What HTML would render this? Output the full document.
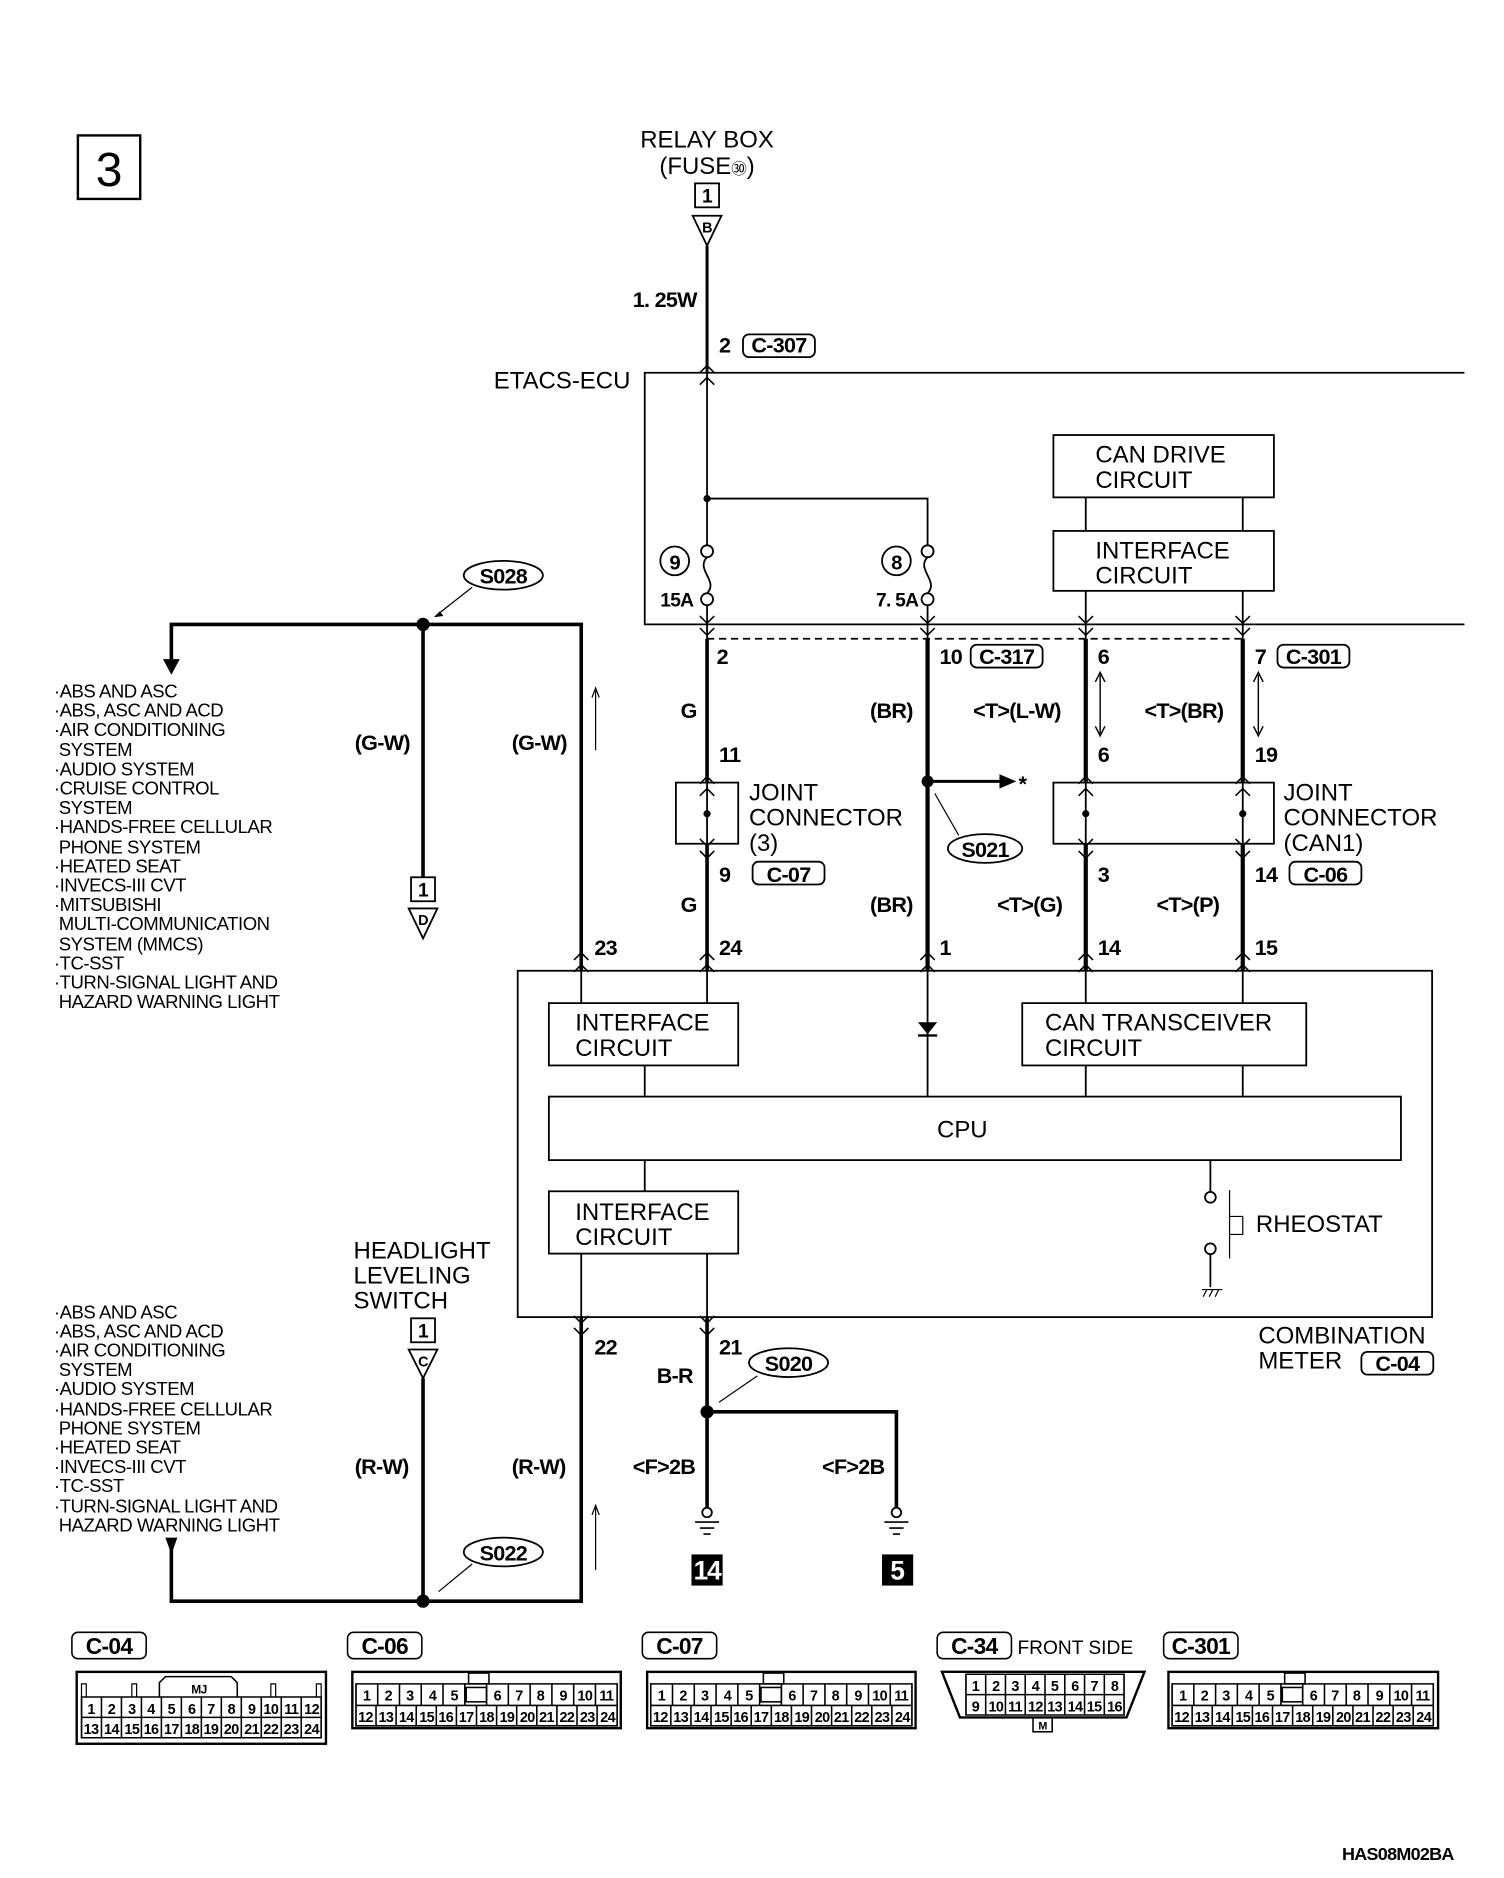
<!DOCTYPE html>
<html><head><meta charset="utf-8"><style>
html,body{margin:0;padding:0;background:#fff}
svg{display:block}
.t{font-family:"Liberation Sans",sans-serif;font-size:20px;fill:#000}
.l{font-family:"Liberation Sans",sans-serif;font-size:15.5px;fill:#000;letter-spacing:-0.4px}
.b{font-family:"Liberation Sans Narrow","Liberation Sans",sans-serif;font-weight:bold;font-size:18px;fill:#000;letter-spacing:-0.6px}
.c{font-family:"Liberation Sans Narrow","Liberation Sans",sans-serif;font-weight:bold;font-size:12px;fill:#000;text-anchor:middle;letter-spacing:-0.5px}
</style></head><body>
<svg width="1504" height="1878" viewBox="0 0 1255 1567" preserveAspectRatio="none" xmlns="http://www.w3.org/2000/svg">
<defs>
<path id="up" d="M-6,6 L0,0 L6,6 M-6,16 L0,10 L6,16" fill="none" stroke="#000" stroke-width="1.3"/>
<path id="dn" d="M-6,-6 L0,0 L6,-6 M-6,4 L0,10 L6,4" fill="none" stroke="#000" stroke-width="1.3"/>
<path id="gnd" d="M-10,0 H10 M-6,5 H6 M-3,10 H3" fill="none" stroke="#000" stroke-width="1.3"/>
</defs>
<g fill="none" stroke="#000" stroke-width="1.5">
<rect x="65" y="113" width="52" height="53" stroke-width="2"/>
<rect x="580" y="153" width="20" height="20"/>
<path d="M578,180 H602 L590,205 Z"/>
<line x1="590" y1="205" x2="590" y2="311" stroke-width="2.5"/>
<rect x="620" y="279" width="60" height="19" rx="5"/>
<path d="M1222,311 H538 V521 H1222"/>
<line x1="590" y1="311" x2="590" y2="455"/>
<path d="M590,416 H774 V455"/>
<circle cx="590" cy="460" r="5"/><circle cx="590" cy="500" r="5"/>
<path d="M590,465 C580,475 600,485 590,495"/>
<circle cx="774" cy="460" r="5"/><circle cx="774" cy="500" r="5"/>
<path d="M774,465 C764,475 784,485 774,495"/>
<circle cx="563" cy="468" r="12"/><circle cx="748" cy="468" r="12"/>
<rect x="879" y="363" width="184" height="52"/>
<rect x="879" y="443" width="184" height="50"/>
<line x1="906" y1="415" x2="906" y2="443"/><line x1="1037" y1="415" x2="1037" y2="443"/>
<line x1="906" y1="493" x2="906" y2="533"/><line x1="1037" y1="493" x2="1037" y2="533"/>
<line x1="590" y1="505" x2="590" y2="533"/><line x1="774" y1="505" x2="774" y2="533"/>
<line x1="590" y1="533" x2="1037" y2="533" stroke-dasharray="6,4"/>
<rect x="810" y="538" width="60" height="19" rx="5"/>
<rect x="1066" y="538" width="60" height="19" rx="5"/>
<line x1="590" y1="533" x2="590" y2="810" stroke-width="3"/>
<line x1="774" y1="533" x2="774" y2="810" stroke-width="3.5"/>
<line x1="906" y1="533" x2="906" y2="810" stroke-width="3.5"/>
<line x1="1037" y1="533" x2="1037" y2="810" stroke-width="3.5"/>
<path d="M918,563 V612 M914,569 L918,561 L922,569 M914,606 L918,614 L922,606" stroke-width="1.2"/>
<path d="M1050,563 V612 M1046,569 L1050,561 L1054,569 M1046,606 L1050,614 L1054,606" stroke-width="1.2"/>
<rect x="564" y="653" width="52" height="51" fill="#fff"/>
<rect x="879" y="653" width="184" height="51" fill="#fff"/>
<line x1="590" y1="653" x2="590" y2="704"/>
<line x1="906" y1="653" x2="906" y2="704"/><line x1="1037" y1="653" x2="1037" y2="704"/>
<line x1="774" y1="652" x2="835" y2="652" stroke-width="2.5"/>
<ellipse cx="822" cy="708" rx="31" ry="12"/>
<line x1="800" y1="697" x2="780" y2="662" stroke-width="1"/>
<rect x="628" y="719" width="60" height="19" rx="5"/>
<rect x="1076" y="719" width="60" height="19" rx="5"/>
<path d="M143,550 V521 H485 V810" stroke-width="3"/>
<path d="M485,1099 V1336 H143 V1292" stroke-width="3"/>
<line x1="353" y1="521" x2="353" y2="732" stroke-width="3"/>
<ellipse cx="420" cy="480" rx="33" ry="12"/>
<line x1="394" y1="490" x2="366" y2="512" stroke-width="1"/>
<rect x="343" y="732" width="20" height="20"/>
<path d="M341,758 H365 L353,783 Z"/>
<line x1="497" y1="576" x2="497" y2="626" stroke-width="1"/>
<path d="M494,582 L497,574 L500,582" stroke-width="1"/>
<line x1="497" y1="1258" x2="497" y2="1310" stroke-width="1"/>
<path d="M494,1264 L497,1256 L500,1264" stroke-width="1"/>
<rect x="432" y="810" width="763" height="289"/>
<rect x="458" y="837" width="158" height="52"/>
<rect x="853" y="837" width="237" height="52"/>
<rect x="458" y="915" width="711" height="53"/>
<rect x="458" y="994" width="158" height="52"/>
<line x1="538" y1="889" x2="538" y2="915"/>
<line x1="774" y1="810" x2="774" y2="915"/>
<line x1="906" y1="810" x2="906" y2="837"/><line x1="1037" y1="810" x2="1037" y2="837"/>
<line x1="906" y1="889" x2="906" y2="915"/><line x1="1037" y1="889" x2="1037" y2="915"/>
<line x1="590" y1="810" x2="590" y2="837"/><line x1="485" y1="810" x2="485" y2="837"/>
<line x1="538" y1="968" x2="538" y2="994"/>
<line x1="1010" y1="968" x2="1010" y2="995"/>
<circle cx="1010" cy="999" r="4.5"/><circle cx="1010" cy="1042" r="4.5"/>
<line x1="1010" y1="1046" x2="1010" y2="1074"/>
<path d="M1003,1076 H1020 M1004,1082 L1007,1076 M1009,1082 L1012,1076 M1014,1082 L1017,1076" stroke-width="1"/>
<path d="M1026,993 V1050 M1026,1015 H1037 V1030 H1026" stroke-width="1"/>
<rect x="1136" y="1128" width="60" height="19" rx="5"/>
<line x1="485" y1="1046" x2="485" y2="1099"/>
<line x1="590" y1="1046" x2="590" y2="1099"/>
<line x1="590" y1="1099" x2="590" y2="1258" stroke-width="3"/>
<path d="M590,1178 H748 V1258" stroke-width="3"/>
<circle cx="590" cy="1262" r="4"/><circle cx="748" cy="1262" r="4"/>
<ellipse cx="658" cy="1137" rx="33" ry="12"/>
<line x1="632" y1="1148" x2="600" y2="1170" stroke-width="1"/>
<rect x="343" y="1100" width="20" height="20"/>
<path d="M341,1126 H365 L353,1150 Z"/>
<line x1="353" y1="1150" x2="353" y2="1336" stroke-width="3"/>
<ellipse cx="420" cy="1295" rx="33" ry="12"/>
<line x1="394" y1="1305" x2="366" y2="1328" stroke-width="1"/>
</g>
<g fill="#000">
<circle cx="590" cy="416" r="3"/>
<circle cx="590" cy="679" r="3"/><circle cx="906" cy="679" r="3"/><circle cx="1037" cy="679" r="3"/>
<circle cx="774" cy="652" r="5"/>
<path d="M834,646 L848,652 L834,658 Z"/>
<circle cx="353" cy="521" r="5.5"/><circle cx="353" cy="1336" r="5.5"/>
<circle cx="590" cy="1178" r="5.5"/>
<path d="M136,550 H150 L143,563 Z"/>
<path d="M138,1283 H148 L143,1297 Z"/>
<path d="M766,853 H782 L774,863 Z"/><rect x="766" y="863" width="16" height="2"/>
<rect x="577" y="1297" width="26" height="26"/><rect x="736" y="1297" width="26" height="26"/>
<path d="M367,510 L362,515 L370,514 Z"/>
</g>
<g>
<use href="#up" x="590" y="305"/>
<use href="#dn" x="590" y="520"/><use href="#dn" x="774" y="520"/><use href="#dn" x="906" y="520"/><use href="#dn" x="1037" y="520"/>
<use href="#up" x="590" y="648"/><use href="#up" x="906" y="648"/><use href="#up" x="1037" y="648"/>
<use href="#dn" x="590" y="706"/><use href="#dn" x="906" y="706"/><use href="#dn" x="1037" y="706"/>
<use href="#up" x="485" y="795"/><use href="#up" x="590" y="795"/><use href="#up" x="774" y="795"/><use href="#up" x="906" y="795"/><use href="#up" x="1037" y="795"/>
<use href="#dn" x="485" y="1104"/><use href="#dn" x="590" y="1104"/>
<use href="#gnd" x="590" y="1270"/><use href="#gnd" x="748" y="1270"/>
</g>
<text class="t" x="91" y="155" text-anchor="middle" style="font-size:40px">3</text>
<text class="t" x="590" y="123" text-anchor="middle">RELAY BOX</text>
<text class="t" x="590" y="145" text-anchor="middle">(FUSE<tspan style="font-size:13px">㉚</tspan>)</text>
<text class="c" x="590" y="169" style="font-size:16px">1</text>
<text class="c" x="590" y="194" style="font-size:12px">B</text>
<text class="b" x="528" y="256">1. 25W</text>
<text class="b" x="600" y="294">2</text><text class="b" x="650" y="294" text-anchor="middle">C-307</text>
<text class="t" x="412" y="324">ETACS-ECU</text>
<text class="b" x="563" y="475" text-anchor="middle" style="font-size:17px">9</text>
<text class="b" x="748" y="475" text-anchor="middle" style="font-size:17px">8</text>
<text class="b" x="551" y="506" style="font-size:16px">15A</text>
<text class="b" x="731" y="506" style="font-size:16px">7. 5A</text>
<text class="t" x="914" y="386">CAN DRIVE</text><text class="t" x="914" y="407">CIRCUIT</text>
<text class="t" x="914" y="466">INTERFACE</text><text class="t" x="914" y="487">CIRCUIT</text>
<text class="b" x="598" y="554">2</text>
<text class="b" x="784" y="554">10</text><text class="b" x="840" y="554" text-anchor="middle">C-317</text>
<text class="b" x="916" y="554">6</text>
<text class="b" x="1047" y="554">7</text><text class="b" x="1096" y="554" text-anchor="middle">C-301</text>
<text class="b" x="568" y="599">G</text><text class="b" x="726" y="599">(BR)</text>
<text class="b" x="812" y="599">&lt;T&gt;(L-W)</text><text class="b" x="955" y="599">&lt;T&gt;(BR)</text>
<text class="b" x="600" y="636">11</text><text class="b" x="916" y="636">6</text><text class="b" x="1047" y="636">19</text>
<text class="t" x="625" y="668">JOINT</text><text class="t" x="625" y="689">CONNECTOR</text><text class="t" x="625" y="710">(3)</text>
<text class="t" x="1071" y="668">JOINT</text><text class="t" x="1071" y="689">CONNECTOR</text><text class="t" x="1071" y="710">(CAN1)</text>
<text class="b" x="850" y="660">*</text>
<text class="b" x="822" y="715" text-anchor="middle">S021</text>
<text class="b" x="600" y="736">9</text><text class="b" x="658" y="736" text-anchor="middle">C-07</text>
<text class="b" x="916" y="736">3</text>
<text class="b" x="1047" y="736">14</text><text class="b" x="1106" y="736" text-anchor="middle">C-06</text>
<text class="b" x="568" y="761">G</text><text class="b" x="726" y="761">(BR)</text>
<text class="b" x="832" y="761">&lt;T&gt;(G)</text><text class="b" x="965" y="761">&lt;T&gt;(P)</text>
<text class="b" x="496" y="797">23</text><text class="b" x="600" y="797">24</text><text class="b" x="784" y="797">1</text><text class="b" x="916" y="797">14</text><text class="b" x="1047" y="797">15</text>
<text class="t" x="480" y="860">INTERFACE</text><text class="t" x="480" y="881">CIRCUIT</text>
<text class="t" x="872" y="860">CAN TRANSCEIVER</text><text class="t" x="872" y="881">CIRCUIT</text>
<text class="t" x="803" y="949" text-anchor="middle">CPU</text>
<text class="t" x="480" y="1018">INTERFACE</text><text class="t" x="480" y="1039">CIRCUIT</text>
<text class="t" x="1048" y="1028">RHEOSTAT</text>
<text class="t" x="1050" y="1121">COMBINATION</text><text class="t" x="1050" y="1142">METER</text>
<text class="b" x="1166" y="1144" text-anchor="middle">C-04</text>
<text class="b" x="420" y="487" text-anchor="middle">S028</text>
<text class="c" x="353" y="748" style="font-size:16px">1</text><text class="c" x="353" y="772" style="font-size:12px">D</text>
<text class="b" x="296" y="626">(G-W)</text><text class="b" x="427" y="626">(G-W)</text>
<text class="l" x="45" y="582">·ABS AND ASC</text>
<text class="l" x="45" y="598">·ABS, ASC AND ACD</text>
<text class="l" x="45" y="614">·AIR CONDITIONING</text>
<text class="l" x="49" y="631">SYSTEM</text>
<text class="l" x="45" y="647">·AUDIO SYSTEM</text>
<text class="l" x="45" y="663">·CRUISE CONTROL</text>
<text class="l" x="49" y="679">SYSTEM</text>
<text class="l" x="45" y="695">·HANDS-FREE CELLULAR</text>
<text class="l" x="49" y="712">PHONE SYSTEM</text>
<text class="l" x="45" y="728">·HEATED SEAT</text>
<text class="l" x="45" y="744">·INVECS-III CVT</text>
<text class="l" x="45" y="760">·MITSUBISHI</text>
<text class="l" x="49" y="776">MULTI-COMMUNICATION</text>
<text class="l" x="49" y="793">SYSTEM (MMCS)</text>
<text class="l" x="45" y="809">·TC-SST</text>
<text class="l" x="45" y="825">·TURN-SIGNAL LIGHT AND</text>
<text class="l" x="49" y="841">HAZARD WARNING LIGHT</text>
<text class="t" x="295" y="1050">HEADLIGHT</text><text class="t" x="295" y="1071">LEVELING</text><text class="t" x="295" y="1092">SWITCH</text>
<text class="c" x="353" y="1116" style="font-size:16px">1</text><text class="c" x="353" y="1140" style="font-size:12px">C</text>
<text class="l" x="45" y="1100">·ABS AND ASC</text>
<text class="l" x="45" y="1116">·ABS, ASC AND ACD</text>
<text class="l" x="45" y="1132">·AIR CONDITIONING</text>
<text class="l" x="49" y="1148">SYSTEM</text>
<text class="l" x="45" y="1164">·AUDIO SYSTEM</text>
<text class="l" x="45" y="1181">·HANDS-FREE CELLULAR</text>
<text class="l" x="49" y="1197">PHONE SYSTEM</text>
<text class="l" x="45" y="1213">·HEATED SEAT</text>
<text class="l" x="45" y="1229">·INVECS-III CVT</text>
<text class="l" x="45" y="1245">·TC-SST</text>
<text class="l" x="45" y="1262">·TURN-SIGNAL LIGHT AND</text>
<text class="l" x="49" y="1278">HAZARD WARNING LIGHT</text>
<text class="b" x="296" y="1230">(R-W)</text><text class="b" x="427" y="1230">(R-W)</text>
<text class="b" x="496" y="1130">22</text><text class="b" x="600" y="1130">21</text>
<text class="b" x="548" y="1154">B-R</text>
<text class="b" x="658" y="1144" text-anchor="middle">S020</text>
<text class="b" x="528" y="1230">&lt;F&gt;2B</text><text class="b" x="686" y="1230">&lt;F&gt;2B</text>
<text class="b" x="420" y="1302" text-anchor="middle">S022</text>
<text x="590" y="1318" text-anchor="middle" style="font-family:'Liberation Sans',sans-serif;font-weight:bold;font-size:22px;fill:#fff;letter-spacing:-1px">14</text>
<text x="749" y="1318" text-anchor="middle" style="font-family:'Liberation Sans',sans-serif;font-weight:bold;font-size:22px;fill:#fff">5</text>
<text class="b" x="1213" y="1552" text-anchor="end" style="font-size:15px">HAS08M02BA</text>
<g fill="none" stroke="#000" stroke-width="1.3">
<rect x="60" y="1362" width="62" height="22" rx="5"/>
<rect x="290" y="1362" width="62" height="22" rx="5"/>
<rect x="536" y="1362" width="62" height="22" rx="5"/>
<rect x="782" y="1362" width="62" height="22" rx="5"/>
<rect x="971" y="1362" width="62" height="22" rx="5"/>
</g>
<text class="b" x="91" y="1380" text-anchor="middle" style="font-size:19px">C-04</text>
<text class="b" x="321" y="1380" text-anchor="middle" style="font-size:19px">C-06</text>
<text class="b" x="567" y="1380" text-anchor="middle" style="font-size:19px">C-07</text>
<text class="b" x="813" y="1380" text-anchor="middle" style="font-size:19px">C-34</text>
<text class="t" x="849" y="1380" style="font-size:16px">FRONT SIDE</text>
<text class="b" x="1002" y="1380" text-anchor="middle" style="font-size:19px">C-301</text>
<g fill="none" stroke="#000" stroke-width="1.3">
<rect x="64" y="1395" width="208" height="60" stroke-width="2"/>
<path d="M68,1416 H268 V1450 H68 Z M68,1433 H268"/>
<path d="M133,1416 V1404 L138,1399 H193 L198,1404 V1416"/>
<path d="M68,1416 V1405 H72 V1416 M110,1416 V1405 H114 V1416 M226,1416 V1405 H230 V1416 M264,1416 V1405 H268 V1416" stroke-width="1"/>
<line x1="68" y1="1433" x2="268" y2="1433" stroke-width="34" stroke-dasharray="1.3 15.37" stroke-dashoffset="0.65"/>
<rect x="294" y="1395" width="224" height="47" stroke-width="2"/>
<path d="M297,1405 H515 V1440 H297 Z M297,1423 H515"/>
<rect x="391" y="1396" width="17" height="9"/><rect x="389" y="1408" width="17" height="12"/>
<line x1="297" y1="1414" x2="515" y2="1414" stroke-width="18" stroke-dasharray="1.3 16.87" stroke-dashoffset="0.65"/>
<line x1="297" y1="1431.5" x2="515" y2="1431.5" stroke-width="17" stroke-dasharray="1.3 15.47" stroke-dashoffset="0.65"/>
<rect x="540" y="1395" width="224" height="47" stroke-width="2"/>
<path d="M543,1405 H761 V1440 H543 Z M543,1423 H761"/>
<rect x="637" y="1396" width="17" height="9"/><rect x="635" y="1408" width="17" height="12"/>
<line x1="543" y1="1414" x2="761" y2="1414" stroke-width="18" stroke-dasharray="1.3 16.87" stroke-dashoffset="0.65"/>
<line x1="543" y1="1431.5" x2="761" y2="1431.5" stroke-width="17" stroke-dasharray="1.3 15.47" stroke-dashoffset="0.65"/>
<rect x="975" y="1395" width="225" height="47" stroke-width="2"/>
<path d="M978,1405 H1196 V1440 H978 Z M978,1423 H1196"/>
<rect x="1072" y="1396" width="17" height="9"/><rect x="1070" y="1408" width="17" height="12"/>
<line x1="978" y1="1414" x2="1196" y2="1414" stroke-width="18" stroke-dasharray="1.3 16.87" stroke-dashoffset="0.65"/>
<line x1="978" y1="1431.5" x2="1196" y2="1431.5" stroke-width="17" stroke-dasharray="1.3 15.47" stroke-dashoffset="0.65"/>
<path d="M786,1395 H955 L940,1433 H801 Z" stroke-width="2"/>
<path d="M806,1397 H938 V1431 H806 Z M806,1414 H938"/>
<line x1="806" y1="1414" x2="938" y2="1414" stroke-width="34" stroke-dasharray="1.3 15.2" stroke-dashoffset="0.65"/>
<rect x="862" y="1433" width="16" height="12"/>
</g>
<g>
<text class="c" x="76" y="1430">1</text><text class="c" x="93" y="1430">2</text><text class="c" x="110" y="1430">3</text><text class="c" x="126" y="1430">4</text><text class="c" x="143" y="1430">5</text><text class="c" x="160" y="1430">6</text><text class="c" x="176" y="1430">7</text><text class="c" x="193" y="1430">8</text><text class="c" x="210" y="1430">9</text><text class="c" x="226" y="1430">10</text><text class="c" x="243" y="1430">11</text><text class="c" x="260" y="1430">12</text>
<text class="c" x="76" y="1447">13</text><text class="c" x="93" y="1447">14</text><text class="c" x="110" y="1447">15</text><text class="c" x="126" y="1447">16</text><text class="c" x="143" y="1447">17</text><text class="c" x="160" y="1447">18</text><text class="c" x="176" y="1447">19</text><text class="c" x="193" y="1447">20</text><text class="c" x="210" y="1447">21</text><text class="c" x="226" y="1447">22</text><text class="c" x="243" y="1447">23</text><text class="c" x="260" y="1447">24</text>
<text class="c" x="166" y="1413" style="font-size:10px">MJ</text>
<text class="c" x="306" y="1419">1</text><text class="c" x="324" y="1419">2</text><text class="c" x="342" y="1419">3</text><text class="c" x="361" y="1419">4</text><text class="c" x="379" y="1419">5</text><text class="c" x="415" y="1419">6</text><text class="c" x="433" y="1419">7</text><text class="c" x="451" y="1419">8</text><text class="c" x="470" y="1419">9</text><text class="c" x="488" y="1419">10</text><text class="c" x="506" y="1419">11</text>
<text class="c" x="305" y="1437">12</text><text class="c" x="322" y="1437">13</text><text class="c" x="339" y="1437">14</text><text class="c" x="356" y="1437">15</text><text class="c" x="372" y="1437">16</text><text class="c" x="389" y="1437">17</text><text class="c" x="406" y="1437">18</text><text class="c" x="423" y="1437">19</text><text class="c" x="440" y="1437">20</text><text class="c" x="456" y="1437">21</text><text class="c" x="473" y="1437">22</text><text class="c" x="490" y="1437">23</text><text class="c" x="507" y="1437">24</text>
<text class="c" x="552" y="1419">1</text><text class="c" x="570" y="1419">2</text><text class="c" x="588" y="1419">3</text><text class="c" x="607" y="1419">4</text><text class="c" x="625" y="1419">5</text><text class="c" x="661" y="1419">6</text><text class="c" x="679" y="1419">7</text><text class="c" x="697" y="1419">8</text><text class="c" x="716" y="1419">9</text><text class="c" x="734" y="1419">10</text><text class="c" x="752" y="1419">11</text>
<text class="c" x="551" y="1437">12</text><text class="c" x="568" y="1437">13</text><text class="c" x="585" y="1437">14</text><text class="c" x="602" y="1437">15</text><text class="c" x="618" y="1437">16</text><text class="c" x="635" y="1437">17</text><text class="c" x="652" y="1437">18</text><text class="c" x="669" y="1437">19</text><text class="c" x="686" y="1437">20</text><text class="c" x="702" y="1437">21</text><text class="c" x="719" y="1437">22</text><text class="c" x="736" y="1437">23</text><text class="c" x="753" y="1437">24</text>
<text class="c" x="987" y="1419">1</text><text class="c" x="1005" y="1419">2</text><text class="c" x="1023" y="1419">3</text><text class="c" x="1042" y="1419">4</text><text class="c" x="1060" y="1419">5</text><text class="c" x="1096" y="1419">6</text><text class="c" x="1114" y="1419">7</text><text class="c" x="1132" y="1419">8</text><text class="c" x="1151" y="1419">9</text><text class="c" x="1169" y="1419">10</text><text class="c" x="1187" y="1419">11</text>
<text class="c" x="986" y="1437">12</text><text class="c" x="1003" y="1437">13</text><text class="c" x="1020" y="1437">14</text><text class="c" x="1037" y="1437">15</text><text class="c" x="1053" y="1437">16</text><text class="c" x="1070" y="1437">17</text><text class="c" x="1087" y="1437">18</text><text class="c" x="1104" y="1437">19</text><text class="c" x="1121" y="1437">20</text><text class="c" x="1137" y="1437">21</text><text class="c" x="1154" y="1437">22</text><text class="c" x="1171" y="1437">23</text><text class="c" x="1188" y="1437">24</text>
<text class="c" x="814" y="1411">1</text><text class="c" x="831" y="1411">2</text><text class="c" x="847" y="1411">3</text><text class="c" x="864" y="1411">4</text><text class="c" x="880" y="1411">5</text><text class="c" x="897" y="1411">6</text><text class="c" x="913" y="1411">7</text><text class="c" x="930" y="1411">8</text>
<text class="c" x="814" y="1428">9</text><text class="c" x="831" y="1428">10</text><text class="c" x="847" y="1428">11</text><text class="c" x="864" y="1428">12</text><text class="c" x="880" y="1428">13</text><text class="c" x="897" y="1428">14</text><text class="c" x="913" y="1428">15</text><text class="c" x="930" y="1428">16</text>
<text class="c" x="870" y="1443" style="font-size:9px">M</text>
</g>
</svg>
</body></html>
